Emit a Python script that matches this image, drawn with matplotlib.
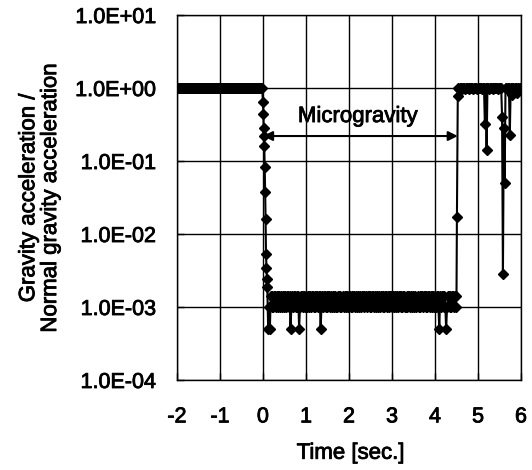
import numpy as np
import matplotlib
matplotlib.use("Agg")
import matplotlib.pyplot as plt
import matplotlib.patheffects as pe
from matplotlib.ticker import FixedLocator, FuncFormatter, NullLocator

plt.rcParams['font.family'] = ['Liberation Sans', 'DejaVu Sans']
plt.rcParams['axes.unicode_minus'] = False

# sampling clock of the drop recorder
DT = 0.02

# before release: normal gravity
pre_start = -2.0
pre_g = [1.0] * 100

# release at t = 0, fast decay
drop_t = [0.00, 0.01, 0.015, 0.02, 0.03, 0.04, 0.05, 0.06, 0.07, 0.08, 0.09, 0.10]
drop_g = [0.64, 0.44, 0.28, 0.22, 0.16, 0.082, 0.038, 0.016, 0.0053, 0.0034, 0.0024, 0.0019]

# microgravity period, level codes
noise_start = 0.12
noise_levels = {'0': 1.0e-3, '1': 1.4e-3, '2': 1.2e-3, '5': 5.0e-4}
noise_code = ("50510101101011010101"
              "10110150101101015011"
              "01101011010110101101"
              "15010110101101011010"
              "01101021011010110101"
              "10101101011012101101"
              "01101011010110101101"
              "10110101101011010110"
              "01011010110102101011"
              "01101011010110101105"
              "10110105011010110101")

# recovery
rec_t = [4.51, 4.53]
rec_g = [0.017, 0.78]

# after capsule stop
post_start = 4.54
post_g = [1.0, 0.97, 1.0, 1.0, 0.98, 1.0, 1.0, 1.0, 0.97, 1.0,
          1.0, 1.0, 0.98, 1.0, 1.0, 1.0, 1.0, 0.97, 1.0, 1.0,
          1.0, 1.0, 0.98, 1.0, 1.0, 1.0, 1.0, 1.0, 0.97, 1.0,
          1.0, 0.32, 1.0, 0.14, 1.0, 1.0, 0.98, 1.0, 1.0, 1.0,
          1.0, 0.97, 1.0, 1.0, 1.0, 1.0, 0.98, 1.0, 1.0, 1.0,
          1.0, 0.40, 0.0028, 0.28, 0.05, 1.0, 1.0, 0.97, 1.0, 1.0,
          0.23, 1.0, 0.80, 1.0, 1.0, 0.97, 1.0, 1.0, 0.85, 1.0,
          1.0, 0.98, 1.0, 1.0]

y_ticks = [1e-4, 1e-3, 1e-2, 1e-1, 1e0, 1e1]
x_ticks = [-2, -1, 0, 1, 2, 3, 4, 5, 6]

pre_t = pre_start + DT * np.arange(len(pre_g))
noise_g = [noise_levels[c] for c in noise_code]
noise_t = noise_start + DT * np.arange(len(noise_g))
post_t = post_start + DT * np.arange(len(post_g))

t = np.concatenate([pre_t, drop_t, noise_t, rec_t, post_t])
g = np.concatenate([pre_g, drop_g, noise_g, rec_g, post_g])

fig = plt.figure(figsize=(5.32, 4.70), dpi=100)
ax = fig.add_axes([0.3327, 0.1915, 0.6466, 0.7765])

ax.plot(t, g, color='black', lw=1.5, marker='D', ms=5, mfc='black', mec='black')

ax.set_yscale('log')
ax.set_ylim(1e-4, 1e1)
ax.set_xlim(-2, 6)
ax.yaxis.set_major_locator(FixedLocator(y_ticks))
ax.yaxis.set_minor_locator(NullLocator())
ax.yaxis.set_major_formatter(FuncFormatter(lambda v, p: '%.1E' % v))
ax.set_xticks(x_ticks)

ax.grid(True, color='black', lw=1.0)
for s in ax.spines.values():
    s.set_color('black')
    s.set_linewidth(1.0)
ax.tick_params(direction='in', length=5, width=1, labelsize=15.5, colors='black')
ax.tick_params(axis='y', pad=15)
ax.tick_params(axis='x', pad=19)

ax.set_xlabel('Time [sec.]', fontsize=16)
ax.xaxis.set_label_coords(0.505, -0.172)
ax.set_ylabel('Gravity acceleration /\nNormal gravity acceleration', fontsize=16,
              linespacing=1.05)
ax.yaxis.set_label_coords(-0.337, 0.5)

# microgravity span
ax.annotate('', xy=(0.0, 0.22), xytext=(4.53, 0.22),
            arrowprops=dict(arrowstyle='<|-|>', color='black', lw=1.5,
                            mutation_scale=14, shrinkA=0, shrinkB=0))
ax.text(2.21, 0.342, 'Microgravity', fontsize=16, ha='center', va='baseline')

# slightly heavier text, like the scanned original
thick = [pe.withStroke(linewidth=0.6, foreground='black')]
for txt in (ax.get_xticklabels() + ax.get_yticklabels() +
            [ax.xaxis.label, ax.yaxis.label] + ax.texts):
    txt.set_path_effects(thick)

fig.savefig('out.png', dpi=100)
